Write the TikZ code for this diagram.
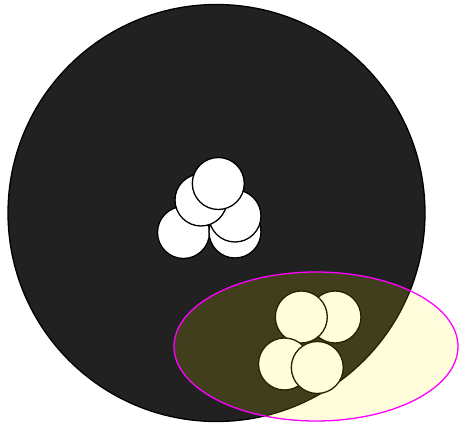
\documentclass[tikz,border=0pt]{standalone}
\definecolor{darkdisc}{HTML}{212121}
\definecolor{rim}{HTML}{FF00FF}
\begin{document}
\begin{tikzpicture}[x=1pt,y=-1pt]
                        \useasboundingbox (0,0) rectangle (459,425);
                        % Big dark disc
                        \draw[line width=1.3pt, fill=darkdisc] (216.5,213) circle (208.5);
                        % White cluster (centre)
                        \draw[line width=1.3pt, fill=white] (183.5,232.5) circle (26);
                        \draw[line width=1.3pt, fill=white] (235,232) circle (26);
                        \draw[line width=1.3pt, fill=white] (235,216) circle (26);
                        \draw[line width=1.3pt, fill=white] (201,200) circle (26);
                        \draw[line width=1.3pt, fill=white] (218.3,183.5) circle (26);
                        % Cluster under the ellipse
                        \draw[line width=1.3pt, fill=white] (335,317) circle (26);
                        \draw[line width=1.3pt, fill=white] (301.3,317) circle (26);
                        \draw[line width=1.3pt, fill=white] (284.5,364) circle (26);
                        \draw[line width=1.3pt, fill=white] (317.3,367.5) circle (26);
                        % Ellipse
                        \draw[line width=1.3pt, draw=rim, fill=yellow, fill opacity=0.14]
                                (316,346.5) ellipse (142 and 74.5);
        \end{tikzpicture}
\end{document}
